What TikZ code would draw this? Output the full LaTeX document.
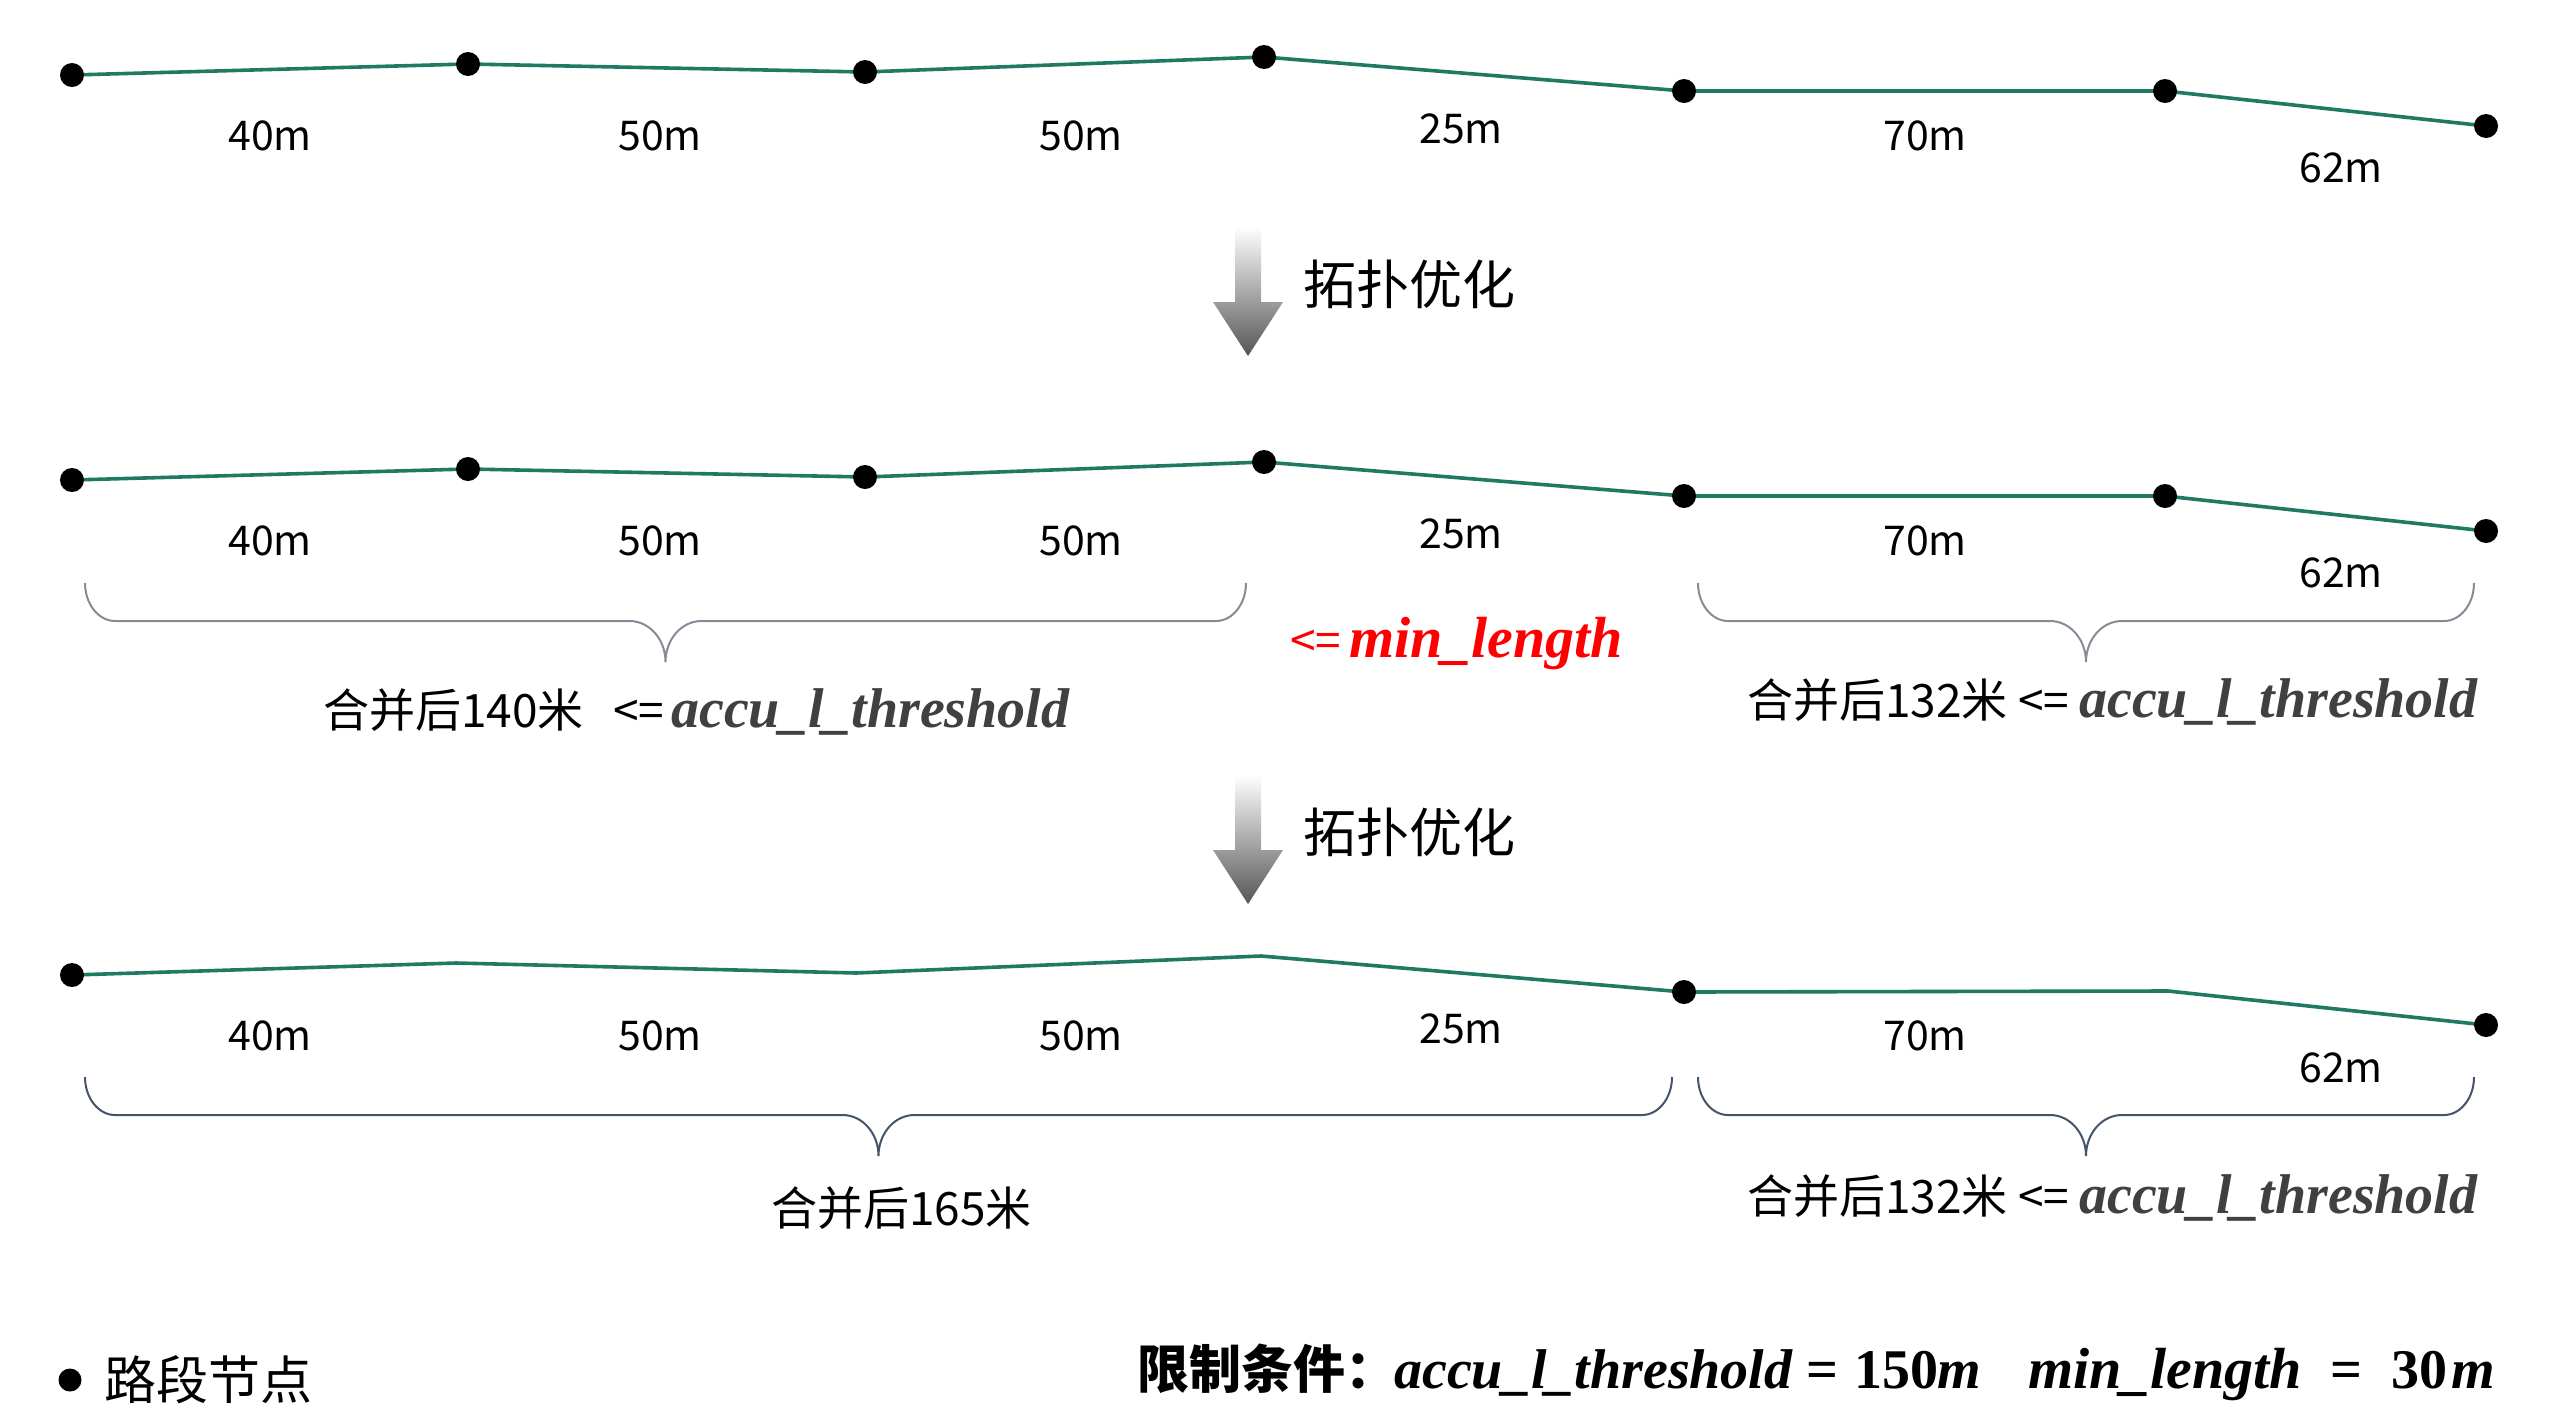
\documentclass[tikz,border=0pt]{standalone}
\usepackage{fontspec}
\newfontfamily\cjk{Noto Sans CJK SC}
\newfontfamily\serifv{Liberation Serif}
\definecolor{roadgreen}{HTML}{1F7A63}
\definecolor{vargray}{HTML}{404040}
\definecolor{bracegrayA}{HTML}{868B95}
\definecolor{bracegrayB}{HTML}{44546A}
\definecolor{arrowdark}{HTML}{555555}
\newcommand\drawbrace[4]{%
  \pgfmathsetmacro\bxc{(#1+#2)/2}%
  \draw[#4] (#1,#3) .. controls (#1,#3+21) and (#1+13.5,#3+38) .. (#1+30,#3+38)
    -- (\bxc-36,#3+38) .. controls (\bxc-16,#3+38) and (\bxc,#3+56.4) .. (\bxc,#3+79)
    .. controls (\bxc,#3+56.4) and (\bxc+16,#3+38) .. (\bxc+36,#3+38)
    -- (#2-30,#3+38) .. controls (#2-13.5,#3+38) and (#2,#3+21) .. (#2,#3);%
}
\newcommand\downarrowshape[1]{%
  \shade[top color=white, bottom color=arrowdark]
    (1235,#1) -- (1261,#1) -- (1261,#1+75) -- (1283,#1+75) -- (1248,#1+129)
    -- (1213,#1+75) -- (1235,#1+75) -- cycle;%
}
\tikzset{
  road/.style={line width=3.6pt, draw=roadgreen, line join=round},
  dot/.style={circle, fill=black, inner sep=0pt, minimum size=24pt},
  lenlbl/.style={font=\cjk\fontsize{41}{48}\selectfont, inner sep=0pt, anchor=base},
  cjklbl/.style={font=\cjk\fontsize{46}{54}\selectfont, inner sep=0pt, anchor=base west},
  varlbl/.style={font=\serifv\bfseries\itshape\fontsize{56}{64}\selectfont, inner sep=0pt, anchor=base west, text=vargray},
  varlblw/.style={varlbl, font=\serifv\bfseries\itshape\fontsize{58}{66}\selectfont},
  numlbl/.style={font=\serifv\bfseries\fontsize{56}{64}\selectfont, inner sep=0pt, anchor=base west},
  optlbl/.style={font=\cjk\fontsize{53}{60}\selectfont, inner sep=0pt},
  braceA/.style={line width=2pt, draw=bracegrayA},
  braceB/.style={line width=2pt, draw=bracegrayB},
}
\begin{document}
\begin{tikzpicture}[x=1pt,y=-1pt]
\useasboundingbox (0,0) rectangle (2551,1406);
\fill[white] (0,0) rectangle (2551,1406);

% ---------- road vertices ----------
\foreach \r/\dy in {1/0,2/405}{
  \coordinate (v\r1) at (72,75+\dy);
  \coordinate (v\r2) at (468,64+\dy);
  \coordinate (v\r3) at (865,72+\dy);
  \coordinate (v\r4) at (1264,57+\dy);
  \coordinate (v\r5) at (1684,91+\dy);
  \coordinate (v\r6) at (2165,91+\dy);
  \coordinate (v\r7) at (2486,126+\dy);
}
\coordinate (v31) at (72,975);
\coordinate (v32) at (456,963);
\coordinate (v33) at (856,973);
\coordinate (v34) at (1261,956);
\coordinate (v35) at (1684,992);
\coordinate (v36) at (2168,991);
\coordinate (v37) at (2486,1025);

\foreach \r in {1,2,3}{
  \draw[road] (v\r1) -- (v\r2) -- (v\r3) -- (v\r4) -- (v\r5) -- (v\r6) -- (v\r7);
}
\foreach \r in {1,2}{
  \foreach \k in {1,...,7}{
    \node[dot] (d\r\k) at (v\r\k) {};
  }
}
\node[dot] (d31) at (v31) {};
\node[dot] (d35) at (v35) {};
\node[dot] (d37) at (v37) {};

% length labels
\foreach \r/\dy in {1/0,2/405,3/900}{
  \node[lenlbl] (l\r1) at (270,150+\dy) {40m};
  \node[lenlbl] (l\r2) at (660,150+\dy) {50m};
  \node[lenlbl] (l\r3) at (1081,150+\dy) {50m};
  \node[lenlbl] (l\r4) at (1461,143+\dy) {25m};
  \node[lenlbl] (l\r5) at (1925,150+\dy) {70m};
  \node[lenlbl] (l\r6) at (2341,182+\dy) {62m};
}

% arrows
\downarrowshape{227}
\node[optlbl] (opt1) at (1409,284) {拓扑优化};
\downarrowshape{775}
\node[optlbl] (opt2) at (1409,832) {拓扑优化};

% ---------- row 2 annotations ----------
\drawbrace{85}{1246}{583}{braceA}
\drawbrace{1698}{2474}{583}{braceA}
\node[cjklbl, text=red] (mle) at (1290,657) {<=};
\node[varlblw, text=red] (mlv) at (1349,657) {min\_length};
\node[cjklbl] (m2a) at (323,727) {合并后140米};
\node[cjklbl] (m2b) at (613,727) {<=};
\node[varlbl] (m2c) at (671,727) {accu\_l\_threshold};
\node[cjklbl] (m2d) at (1747,717) {合并后132米};
\node[cjklbl] (m2e) at (2018,717) {<=};
\node[varlbl] (m2f) at (2079,717) {accu\_l\_threshold};

% ---------- row 3 annotations ----------
\drawbrace{85}{1672}{1077}{braceB}
\drawbrace{1698}{2474}{1077}{braceB}
\node[cjklbl] (m3a) at (771,1225) {合并后165米};
\node[cjklbl] (m3d) at (1747,1213) {合并后132米};
\node[cjklbl] (m3e) at (2018,1213) {<=};
\node[varlbl] (m3f) at (2079,1213) {accu\_l\_threshold};

% ---------- legend ----------
\node[dot, minimum size=23pt] (legdot) at (70,1380) {};
\node[font=\cjk\fontsize{52}{60}\selectfont, inner sep=0pt] (legtxt) at (208,1380) {路段节点};

% ---------- constraints ----------
\node[font=\cjk\bfseries\fontsize{52}{60}\selectfont, inner sep=0pt, anchor=base west] (c0) at (1137,1388) {限制条件：};
\node[varlbl, text=black] (c1) at (1394,1388) {accu\_l\_threshold};
\node[numlbl] (c2) at (1806,1388) {=};
\node[numlbl] (c3) at (1854,1388) {150};
\node[varlbl, text=black] (c4) at (1937,1388) {m};
\node[varlblw, text=black] (c5) at (2028,1388) {min\_length};
\node[numlbl] (c6) at (2330,1388) {=};
\node[numlbl] (c7) at (2391,1388) {30};
\node[varlbl, text=black] (c8) at (2451,1388) {m};
\end{tikzpicture}
\end{document}
